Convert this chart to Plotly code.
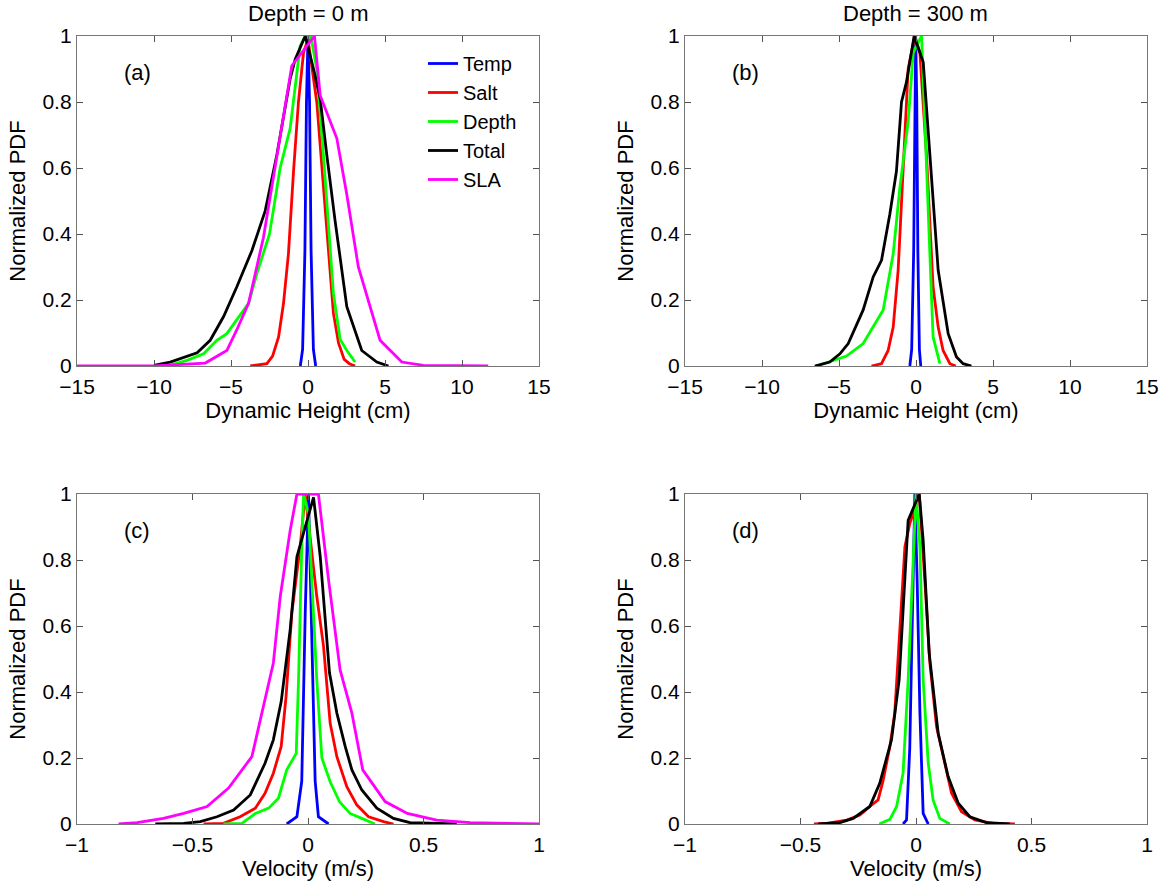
import plotly.graph_objects as go

# ---------------- data ----------------
# Panel (a): Depth = 0 m, Dynamic Height (cm)
a_temp_x = [-0.5, -0.35, -0.2, -0.1, 0.0, 0.1, 0.2, 0.35, 0.5]
a_temp_y = [0.0, 0.05, 0.35, 0.8, 1.0, 0.8, 0.35, 0.05, 0.0]
a_salt_x = [-3.75, -2.67, -2.3, -1.91, -1.59, -1.27, -0.94, -0.62, -0.29, 0.0, 0.57, 1.0, 1.33, 1.65, 1.98, 2.35, 2.69, 3.06]
a_salt_y = [0.0, 0.007, 0.03, 0.088, 0.19, 0.34, 0.59, 0.80, 0.95, 0.99, 0.80, 0.54, 0.34, 0.16, 0.07, 0.02, 0.007, 0.0]
a_depth_x = [-9.16, -7.86, -6.78, -5.92, -5.27, -4.62, -3.86, -3.32, -2.5, -1.81, -1.16, -0.51, -0.29, 0.18, 0.57, 1.0, 1.33, 1.65, 2.09, 2.52, 3.06]
a_depth_y = [0.0, 0.017, 0.037, 0.078, 0.098, 0.14, 0.19, 0.28, 0.40, 0.60, 0.72, 0.97, 0.99, 1.0, 0.90, 0.64, 0.44, 0.22, 0.08, 0.047, 0.012]
a_total_x = [-10.0, -8.95, -7.2, -6.35, -5.48, -4.62, -3.64, -2.78, -2.02, -1.16, -0.83, -0.18, 0.36, 0.79, 1.22, 1.76, 2.52, 3.49, 4.47, 5.22]
a_total_y = [0.002, 0.012, 0.04, 0.078, 0.15, 0.24, 0.35, 0.47, 0.64, 0.87, 0.93, 1.0, 0.90, 0.81, 0.64, 0.44, 0.18, 0.047, 0.012, 0.0]
a_sla_x = [-15.0, -10.0, -6.67, -5.27, -4.62, -3.86, -2.89, -1.81, -1.05, 0.42, 0.79, 1.87, 2.52, 3.27, 4.68, 6.09, 7.5, 11.7]
a_sla_y = [0.0, 0.0, 0.009, 0.047, 0.11, 0.19, 0.39, 0.69, 0.91, 1.0, 0.82, 0.69, 0.52, 0.30, 0.078, 0.012, 0.002, 0.0]

# Panel (b): Depth = 300 m, Dynamic Height (cm)
b_temp_x = [-0.4, -0.28, -0.15, -0.07, -0.02, 0.05, 0.12, 0.22, 0.31]
b_temp_y = [0.0, 0.05, 0.35, 0.8, 1.0, 0.8, 0.35, 0.05, 0.0]
b_salt_x = [-2.89, -2.24, -1.81, -1.48, -1.16, -0.83, -0.51, -0.08, 0.25, 0.68, 1.11, 1.44, 1.76, 2.2, 2.58]
b_salt_y = [0.0, 0.007, 0.047, 0.118, 0.29, 0.60, 0.90, 1.0, 0.95, 0.64, 0.24, 0.118, 0.047, 0.007, 0.0]
b_depth_x = [-6.46, -5.38, -4.51, -3.43, -2.78, -2.13, -1.48, -1.05, -0.51, -0.18, 0.36, 0.68, 0.9, 1.11, 1.55]
b_depth_y = [0.0, 0.017, 0.03, 0.068, 0.118, 0.17, 0.34, 0.54, 0.74, 0.95, 1.0, 0.64, 0.34, 0.088, 0.007]
b_total_x = [-6.57, -5.6, -4.94, -4.4, -3.43, -2.78, -2.24, -1.7, -1.27, -0.94, -0.62, -0.12, 0.47, 0.9, 1.44, 2.09, 2.63, 3.06, 3.6]
b_total_y = [0.0, 0.012, 0.037, 0.068, 0.17, 0.27, 0.32, 0.46, 0.59, 0.80, 0.86, 1.0, 0.92, 0.64, 0.29, 0.098, 0.027, 0.007, 0.0]

# Panel (c): Depth = 0 m, Velocity (m/s)
c_temp_x = [-0.092, -0.048, -0.027, -0.012, 0.002, 0.017, 0.031, 0.045, 0.089]
c_temp_y = [0.0, 0.022, 0.13, 0.64, 1.0, 0.54, 0.13, 0.022, 0.0]
c_salt_x = [-0.452, -0.366, -0.294, -0.228, -0.186, -0.15, -0.116, -0.095, -0.07, -0.034, -0.012, 0.006, 0.038, 0.067, 0.096, 0.125, 0.168, 0.211, 0.262, 0.327, 0.37]
c_salt_y = [0.0, 0.002, 0.022, 0.048, 0.093, 0.154, 0.235, 0.386, 0.64, 0.84, 1.0, 0.89, 0.69, 0.54, 0.305, 0.204, 0.113, 0.058, 0.022, 0.007, 0.0]
c_depth_x = [-0.366, -0.286, -0.228, -0.17, -0.128, -0.092, -0.051, -0.041, -0.027, -0.019, 0.002, 0.017, 0.038, 0.06, 0.096, 0.136, 0.182, 0.233, 0.29]
c_depth_y = [0.0, 0.002, 0.032, 0.048, 0.078, 0.164, 0.214, 0.437, 0.84, 1.0, 0.94, 0.74, 0.437, 0.2, 0.128, 0.068, 0.032, 0.017, 0.0]
c_total_x = [-0.661, -0.538, -0.466, -0.394, -0.322, -0.25, -0.186, -0.15, -0.116, -0.077, -0.048, -0.019, 0.024, 0.053, 0.093, 0.125, 0.161, 0.19, 0.233, 0.298, 0.37, 0.442, 0.644]
c_total_y = [0.0, 0.002, 0.007, 0.022, 0.042, 0.088, 0.184, 0.255, 0.371, 0.59, 0.81, 0.88, 0.99, 0.81, 0.458, 0.336, 0.235, 0.164, 0.103, 0.048, 0.017, 0.004, 0.0]
c_sla_x = [-0.82, -0.74, -0.626, -0.538, -0.437, -0.344, -0.243, -0.2, -0.15, -0.12, -0.077, -0.048, 0.045, 0.089, 0.139, 0.19, 0.237, 0.334, 0.43, 0.557, 0.702, 1.0]
c_sla_y = [0.0, 0.004, 0.017, 0.032, 0.053, 0.109, 0.204, 0.336, 0.488, 0.69, 0.89, 1.0, 1.0, 0.74, 0.467, 0.336, 0.164, 0.068, 0.032, 0.012, 0.004, 0.0]

# Panel (d): Depth = 300 m, Velocity (m/s)
d_temp_x = [-0.056, -0.041, -0.027, -0.015, -0.005, 0.005, 0.017, 0.031, 0.053]
d_temp_y = [0.0, 0.012, 0.23, 0.64, 1.0, 0.74, 0.336, 0.032, 0.0]
d_salt_x = [-0.442, -0.387, -0.3, -0.243, -0.2, -0.164, -0.142, -0.113, -0.092, -0.07, -0.048, -0.027, 0.014, 0.038, 0.06, 0.089, 0.125, 0.154, 0.197, 0.255, 0.334, 0.428]
d_salt_y = [0.0, 0.002, 0.012, 0.027, 0.053, 0.073, 0.133, 0.235, 0.336, 0.59, 0.84, 0.91, 1.0, 0.74, 0.488, 0.295, 0.184, 0.093, 0.037, 0.012, 0.002, 0.0]
d_depth_x = [-0.159, -0.113, -0.084, -0.056, -0.034, -0.017, 0.0, 0.017, 0.031, 0.053, 0.074, 0.103, 0.146]
d_depth_y = [0.0, 0.014, 0.053, 0.154, 0.437, 0.74, 1.0, 0.84, 0.437, 0.184, 0.073, 0.017, 0.0]
d_total_x = [-0.423, -0.33, -0.272, -0.2, -0.157, -0.106, -0.073, -0.056, -0.034, 0.014, 0.031, 0.057, 0.096, 0.139, 0.183, 0.233, 0.305, 0.406]
d_total_y = [0.0, 0.004, 0.017, 0.053, 0.123, 0.255, 0.437, 0.66, 0.92, 1.0, 0.86, 0.518, 0.275, 0.144, 0.063, 0.022, 0.004, 0.0]

series_names = ["Temp", "Salt", "Depth", "Total", "SLA"]
series_colors = ["#0000FF", "#FF0000", "#00FF00", "#000000", "#FF00FF"]
panel_labels = ["(a)", "(b)", "(c)", "(d)"]
col_titles = ["Depth = 0 m", "Depth = 300 m"]
x_titles = ["Dynamic Height (cm)", "Dynamic Height (cm)", "Velocity (m/s)", "Velocity (m/s)"]
y_title = "Normalized PDF"
dh_ticks = [-15, -10, -5, 0, 5, 10, 15]
vel_ticks = [-1, -0.5, 0, 0.5, 1]
y_ticks = [0, 0.2, 0.4, 0.6, 0.8, 1]

panels = [
    {"Temp": (a_temp_x, a_temp_y), "Salt": (a_salt_x, a_salt_y), "Depth": (a_depth_x, a_depth_y),
     "Total": (a_total_x, a_total_y), "SLA": (a_sla_x, a_sla_y)},
    {"Temp": (b_temp_x, b_temp_y), "Salt": (b_salt_x, b_salt_y), "Depth": (b_depth_x, b_depth_y),
     "Total": (b_total_x, b_total_y)},
    {"Temp": (c_temp_x, c_temp_y), "Salt": (c_salt_x, c_salt_y), "Depth": (c_depth_x, c_depth_y),
     "Total": (c_total_x, c_total_y), "SLA": (c_sla_x, c_sla_y)},
    {"Temp": (d_temp_x, d_temp_y), "Salt": (d_salt_x, d_salt_y), "Depth": (d_depth_x, d_depth_y),
     "Total": (d_total_x, d_total_y)},
]

# ---------------- layout geometry ----------------
W, H = 1168, 886
x_doms = [(77 / W, 539 / W), (685 / W, 1147 / W)]
y_doms = [(1 - 366 / H, 1 - 36 / H), (1 - 824 / H, 1 - 494 / H)]
FONT = "Liberation Sans, Arial, Helvetica, sans-serif"
FS = 21

fig = go.Figure()

for i, pdata in enumerate(panels):
    ax = "" if i == 0 else str(i + 1)
    for name, color in zip(series_names, series_colors):
        if name not in pdata:
            continue
        xs, ys = pdata[name]
        fig.add_trace(go.Scatter(
            x=xs, y=ys, mode="lines", name=name,
            line=dict(color=color, width=2.8),
            xaxis="x" + ax, yaxis="y" + ax,
            showlegend=(i == 0),
            hoverinfo="skip",
        ))

axis_common = dict(
    automargin=False,
    showline=True, mirror="allticks", ticks="inside", ticklen=6, tickwidth=1,
    linecolor="#777777", tickcolor="#555555", linewidth=1.3,
    showgrid=False, zeroline=False,
    tickfont=dict(family=FONT, size=FS, color="#000000"),
    title_font=dict(family=FONT, size=FS + 1, color="#000000"),
)

layout = dict(
    width=W, height=H, autosize=False,
    margin=dict(l=0, r=0, t=0, b=0, autoexpand=False),
    paper_bgcolor="white", plot_bgcolor="white",
    font=dict(family=FONT, size=FS, color="#000000"),
    showlegend=True,
    legend=dict(
        x=423 / W, y=1 - 44 / H, xanchor="left", yanchor="top",
        bgcolor="rgba(0,0,0,0)", borderwidth=0,
        font=dict(family=FONT, size=20, color="#000000"),
        tracegroupgap=0,
    ),
)

annotations = []
for i in range(4):
    r, c = divmod(i, 2)
    ax = "" if i == 0 else str(i + 1)
    xr = [-15, 15] if r == 0 else [-1, 1]
    xt = dh_ticks if r == 0 else vel_ticks
    layout["xaxis" + ax] = dict(
        axis_common, domain=list(x_doms[c]), anchor="y" + ax, range=xr,
        tickvals=xt, ticktext=[("−" + str(abs(v)) if v < 0 else str(v)) for v in xt],
        ticklabelstandoff=2,
        title=dict(text=x_titles[i], standoff=0),
    )
    layout["yaxis" + ax] = dict(
        axis_common, domain=list(y_doms[r]), anchor="x" + ax, range=[0, 1],
        tickvals=y_ticks, ticktext=[str(v) if v not in (0, 1) else str(int(v)) for v in y_ticks],
        title=dict(text=y_title, standoff=10),
    )
    annotations.append(dict(
        text=panel_labels[i], xref="x" + ax + " domain", yref="y" + ax + " domain",
        x=0.13, y=0.89, xanchor="center", yanchor="middle", showarrow=False,
        font=dict(family=FONT, size=FS + 1, color="#000000"),
    ))

for c in range(2):
    annotations.append(dict(
        text=col_titles[c], xref="paper", yref="paper",
        x=(x_doms[c][0] + x_doms[c][1]) / 2, y=1 - 14 / H,
        xanchor="center", yanchor="middle", showarrow=False,
        font=dict(family=FONT, size=FS + 1, color="#000000"),
    ))

layout["annotations"] = annotations
fig.update_layout(**layout)

fig.write_html(
    "out.html",
    config={"displayModeBar": False},
    post_script="document.body.style.margin='0px';document.body.style.overflow='hidden';",
)
